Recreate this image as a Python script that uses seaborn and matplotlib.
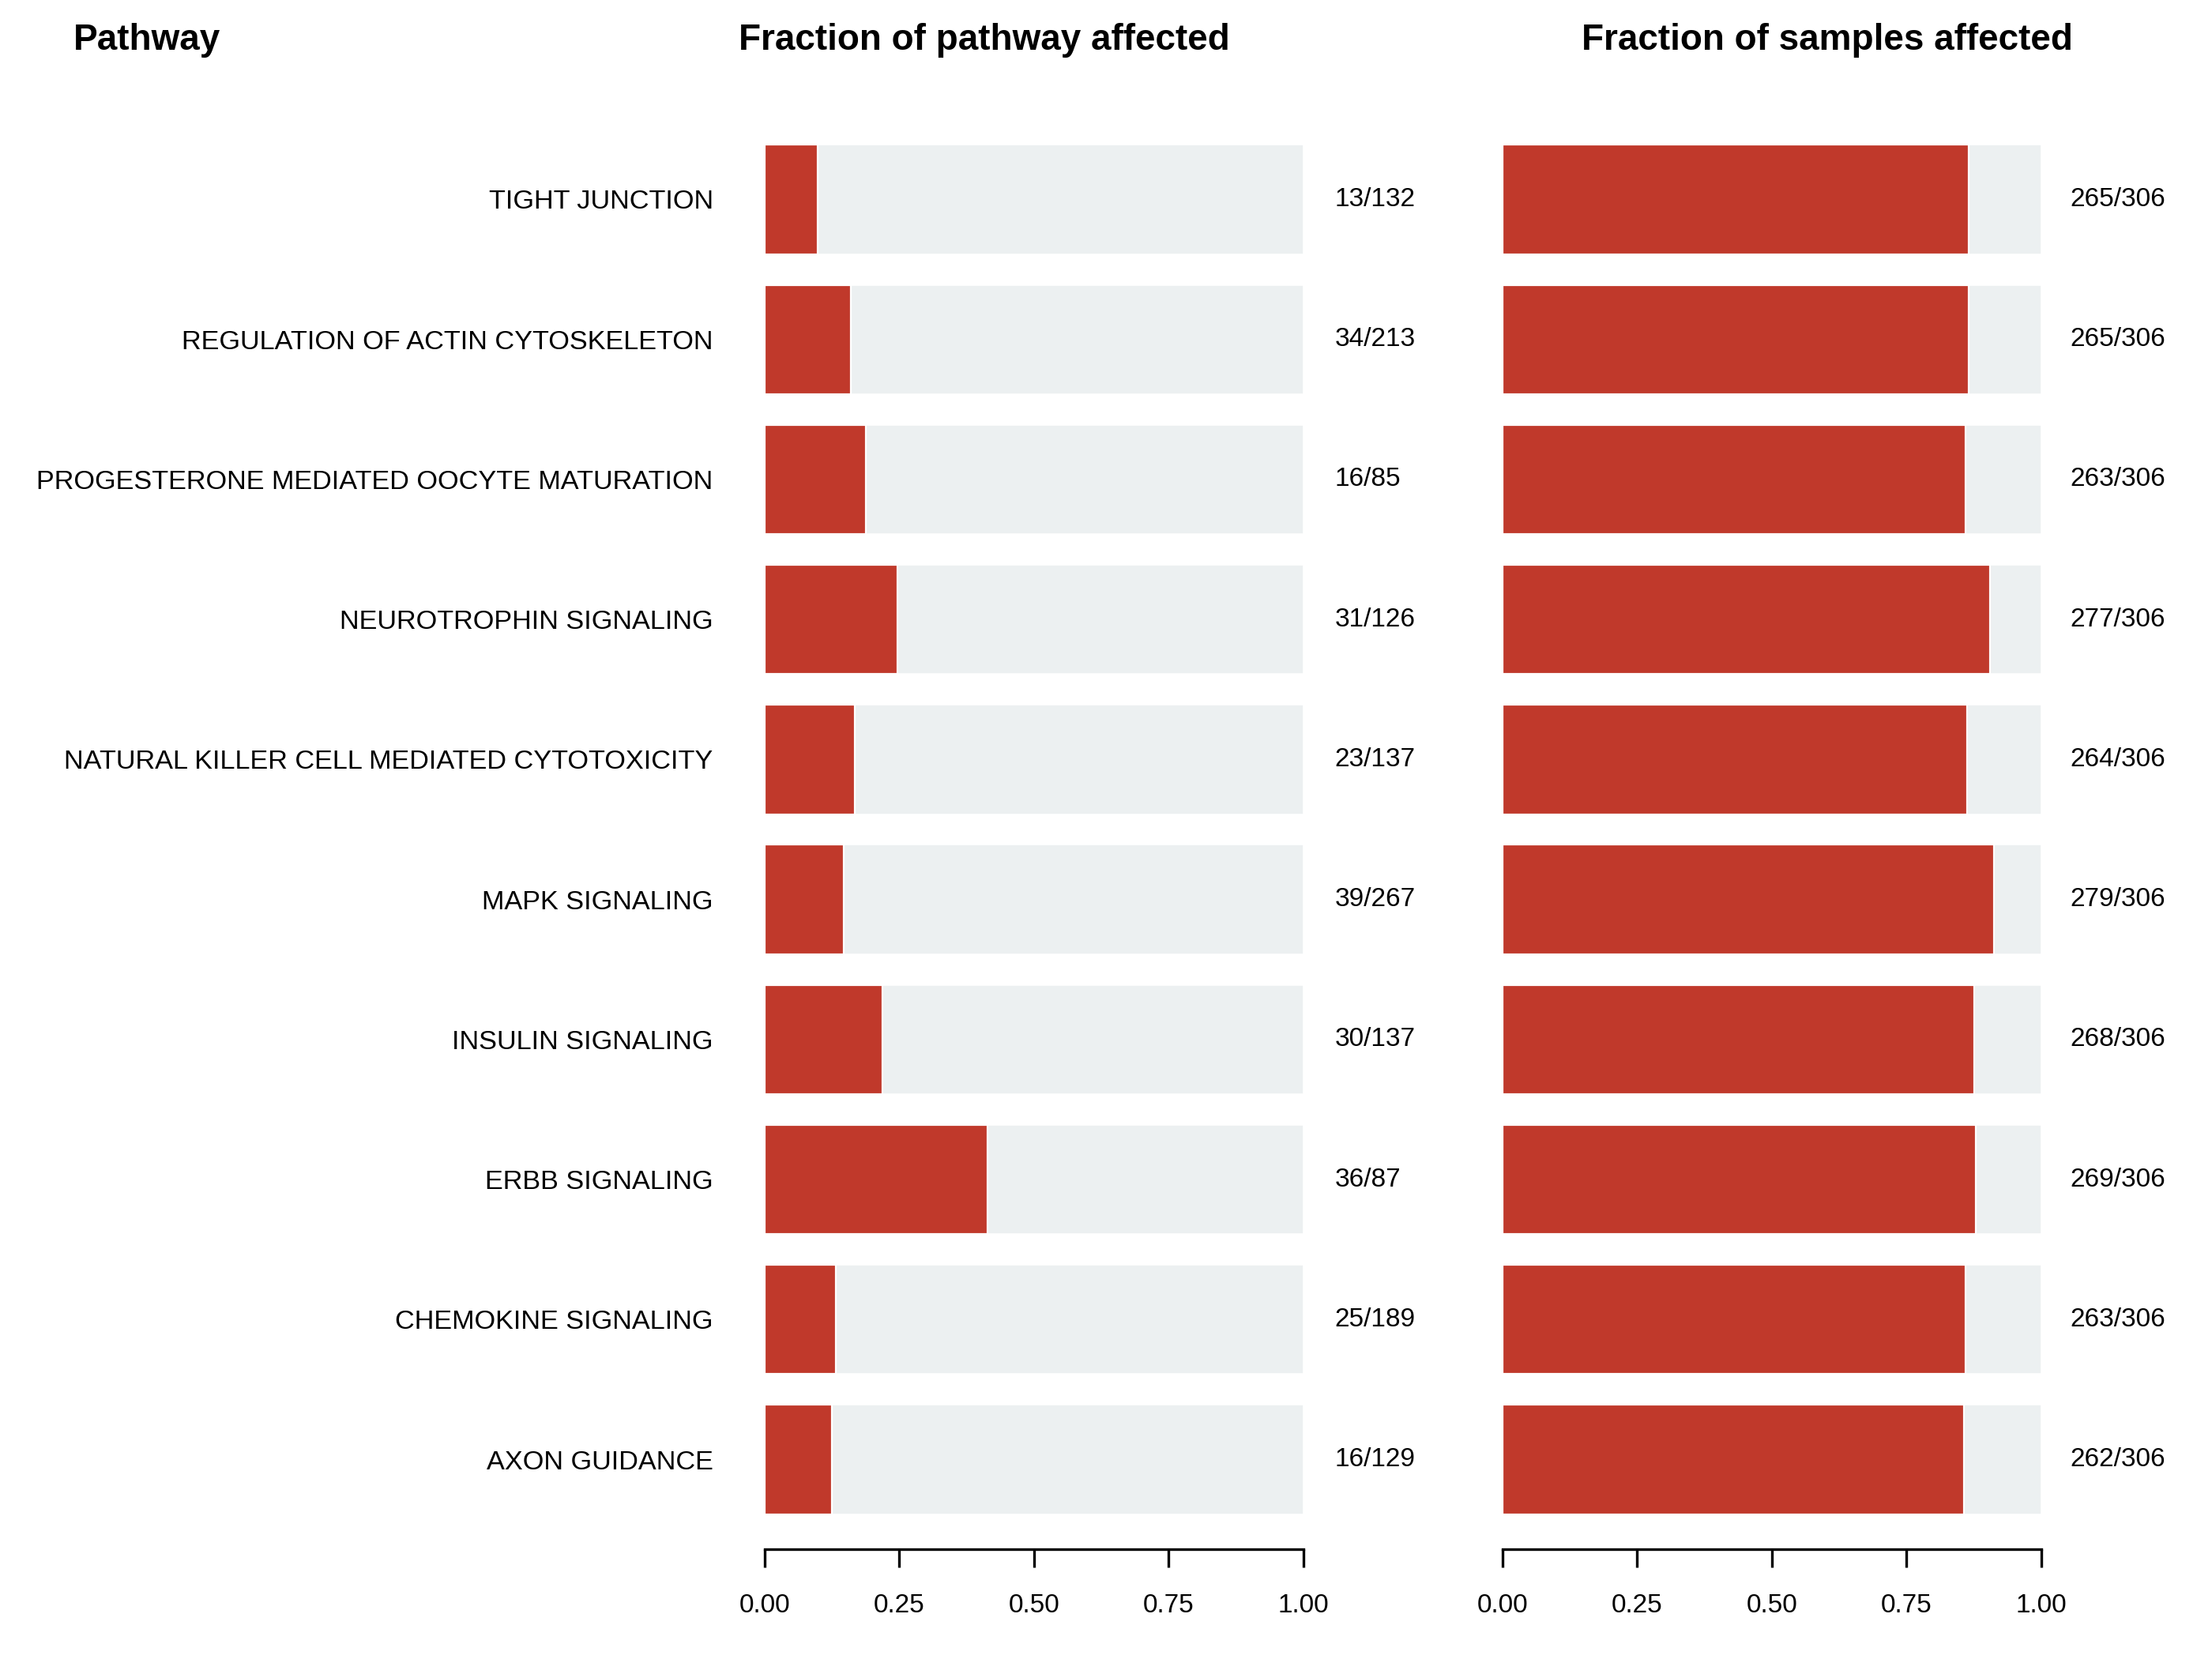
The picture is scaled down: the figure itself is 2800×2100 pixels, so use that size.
import numpy as np
import pandas as pd
import matplotlib
matplotlib.use("Agg")
import matplotlib.pyplot as plt
from matplotlib.ticker import FixedLocator, FormatStrFormatter
import seaborn as sns

# pathway data, top to bottom as drawn
pathways = [
    "TIGHT JUNCTION",
    "REGULATION OF ACTIN CYTOSKELETON",
    "PROGESTERONE MEDIATED OOCYTE MATURATION",
    "NEUROTROPHIN SIGNALING",
    "NATURAL KILLER CELL MEDIATED CYTOTOXICITY",
    "MAPK SIGNALING",
    "INSULIN SIGNALING",
    "ERBB SIGNALING",
    "CHEMOKINE SIGNALING",
    "AXON GUIDANCE",
]
genes_affected = [13, 34, 16, 31, 23, 39, 30, 36, 25, 16]
pathway_size = [132, 213, 85, 126, 137, 267, 137, 87, 189, 129]
samples_affected = [265, 265, 263, 277, 264, 279, 268, 269, 263, 262]
samples_total = [306, 306, 306, 306, 306, 306, 306, 306, 306, 306]
x_ticks = [0.0, 0.25, 0.5, 0.75, 1.0]

RED = "#C0392B"
GREY = "#ECF0F1"

df = pd.DataFrame({
    "pathway": pathways,
    "frac_pathway": np.array(genes_affected) / np.array(pathway_size),
    "frac_samples": np.array(samples_affected) / np.array(samples_total),
    "lab_pathway": [f"{a}/{b}" for a, b in zip(genes_affected, pathway_size)],
    "lab_samples": [f"{a}/{b}" for a, b in zip(samples_affected, samples_total)],
    "full": 1.0,
})

sns.set_style("white")
plt.rcParams["font.family"] = ["Liberation Sans", "DejaVu Sans"]
plt.rcParams["text.color"] = "black"
plt.rcParams["xtick.color"] = "black"
plt.rcParams["ytick.color"] = "black"
plt.rcParams["xtick.labelcolor"] = "black"
plt.rcParams["ytick.labelcolor"] = "black"

fig = plt.figure(figsize=(14, 10.5), dpi=200)
ax1 = fig.add_axes([0.3457, 0.0662, 0.2435, 0.8676])
ax2 = fig.add_axes([0.6793, 0.0662, 0.2435, 0.8676])

n = len(pathways)
for ax, col, lab, lab_x in [(ax1, "frac_pathway", "lab_pathway", 1.058),
                            (ax2, "frac_samples", "lab_samples", 1.054)]:
    # grey full-length background bar, red fraction on top
    sns.barplot(data=df, x="full", y="pathway", orient="h", color=GREY,
                width=0.78, saturation=1, edgecolor="white", linewidth=0.6, ax=ax)
    sns.barplot(data=df, x=col, y="pathway", orient="h", color=RED,
                width=0.78, saturation=1, edgecolor="white", linewidth=0.8, ax=ax)
    for i, t in enumerate(df[lab]):
        ax.text(lab_x, i, t, ha="left", va="center", fontsize=12, clip_on=False)
    ax.set_xlim(0, 1)
    ax.set_ylim(n - 1 + 0.64, -0.64)
    ax.set_xlabel("")
    ax.set_ylabel("")
    for s in ["top", "right", "left"]:
        ax.spines[s].set_visible(False)
    ax.spines["bottom"].set_linewidth(1.2)
    ax.spines["bottom"].set_color("black")
    ax.xaxis.set_major_locator(FixedLocator(x_ticks))
    ax.xaxis.set_major_formatter(FormatStrFormatter("%.2f"))
    ax.tick_params(axis="x", bottom=True, length=8.3, width=1.2, color="black",
                   pad=12, labelsize=12)

ax1.tick_params(axis="y", left=False, length=0, pad=23.5, labelsize=12.35)
ax2.tick_params(axis="y", left=False, labelleft=False)

fig.text(0.0332, 0.97, "Pathway", ha="left", va="baseline",
         fontsize=16.5, fontweight="bold")
fig.text(0.3340, 0.97, "Fraction of pathway affected", ha="left", va="baseline",
         fontsize=16.5, fontweight="bold")
fig.text(0.7150, 0.97, "Fraction of samples affected", ha="left", va="baseline",
         fontsize=16.5, fontweight="bold")

fig.savefig("out.png", dpi=200, facecolor="white")
